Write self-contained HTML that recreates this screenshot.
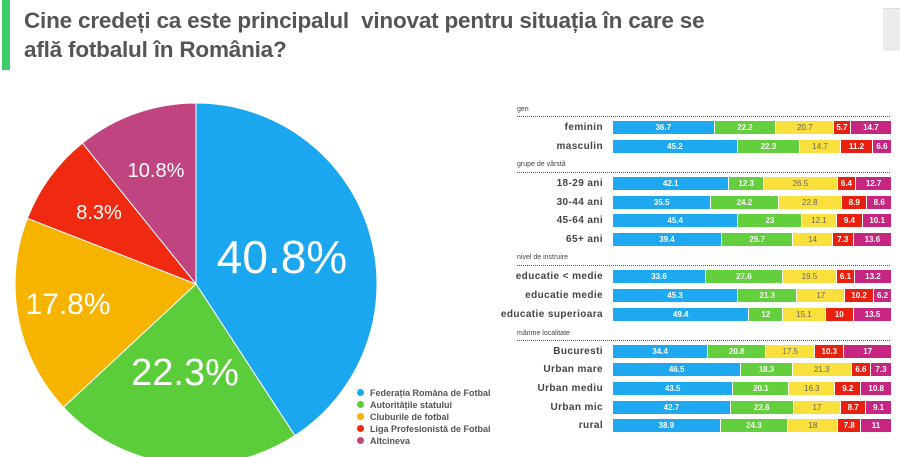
<!DOCTYPE html><html><head><meta charset="utf-8"><style>
body{margin:0;width:900px;height:457px;overflow:hidden;background:#fff;font-family:"Liberation Sans",sans-serif;position:relative}
.t{position:absolute;left:24px;top:6px;font-size:22.5px;font-weight:bold;color:#555;line-height:29px;letter-spacing:-0.2px}
.lab{position:absolute;right:297px;font-size:10px;color:#444;text-align:right;white-space:nowrap;letter-spacing:0.4px;line-height:13px;font-weight:bold}
.sec{position:absolute;left:517px;font-size:7px;color:#444}
.dl{position:absolute;left:517px;width:373px;border-top:1px dotted #555}
.bar{position:absolute;left:613px;width:279px;height:13px;display:flex}
.bar div{height:100%;box-sizing:border-box;border-right:1px solid #fff;font-size:8px;font-weight:bold;color:#fff;text-align:center;line-height:13px;overflow:hidden}
.b{background:#1ea8f0}.g{background:#63cf3c}.y{background:#f9e03c;color:#666!important;font-weight:normal!important}.r{background:#e8200f}.m{background:#c6267f}
.lg{position:absolute;left:357px;font-size:9px;font-weight:bold;color:#555}
.lg span{display:inline-block;width:7px;height:7px;border-radius:50%;margin-right:6px}
</style></head><body>
<div style="position:absolute;left:2px;top:0;width:8px;height:70px;background:#3dcc6b"></div>
<div class="t">Cine credeți ca este principalul&nbsp; vinovat pentru situația în care se<br>află fotbalul în România?</div>
<div style="position:absolute;left:883px;top:8px;width:17px;height:42px;background:#ececec;border-top:1px solid #ddd"></div>
<svg style="position:absolute;left:0;top:0" width="900" height="457">
<g transform="translate(196,284)">
<path d="M0,0 L0,-181 A181,181 0 0 1 98.9,151.6 Z" fill="#1aa7ef" stroke="#fff" stroke-width="1"/>
<path d="M0,0 L98.9,151.6 A181,181 0 0 1 -132.5,123.3 Z" fill="#5ccd3a" stroke="#fff" stroke-width="1"/>
<path d="M0,0 L-132.5,123.3 A181,181 0 0 1 -168.6,-65.7 Z" fill="#f6b400" stroke="#fff" stroke-width="1"/>
<path d="M0,0 L-168.6,-65.7 A181,181 0 0 1 -113.6,-140.9 Z" fill="#f02a10" stroke="#fff" stroke-width="1"/>
<path d="M0,0 L-113.6,-140.9 A181,181 0 0 1 0,-181 Z" fill="#c0447f" stroke="#fff" stroke-width="1"/>
</g>
<g fill="#fff" font-family="Liberation Sans,sans-serif" text-anchor="middle">
<text x="282" y="273" font-size="46">40.8%</text>
<text x="185" y="385" font-size="38">22.3%</text>
<text x="68" y="314" font-size="30">17.8%</text>
<text x="99" y="219" font-size="20">8.3%</text>
<text x="156" y="177" font-size="20">10.8%</text>
</g></svg>
<div class="lg" style="top:388px"><span style="background:#1aa7ef"></span>Federația Romȃna de Fotbal</div>
<div class="lg" style="top:400px"><span style="background:#5ccd3a"></span>Autoritățile statului</div>
<div class="lg" style="top:412px"><span style="background:#f6b400"></span>Cluburile de fotbal</div>
<div class="lg" style="top:424px"><span style="background:#f02a10"></span>Liga Profesionistă de Fotbal</div>
<div class="lg" style="top:436px"><span style="background:#c0447f"></span>Altcineva</div>

<div class="sec" style="top:106px">gen</div><div class="dl" style="top:116px"></div>
<div class="sec" style="top:161px">grupe de vârstă</div><div class="dl" style="top:172px"></div>
<div class="sec" style="top:254px">nivel de instruire</div><div class="dl" style="top:265px"></div>
<div class="sec" style="top:330px">mărime localitate</div><div class="dl" style="top:340px"></div>

<div class="lab" style="top:121px">feminin</div>
<div class="bar" style="top:121px"><div class="b" style="flex:36.7">36.7</div><div class="g" style="flex:22.2">22.2</div><div class="y" style="flex:20.7">20.7</div><div class="r" style="flex:5.7">5.7</div><div class="m" style="flex:14.7">14.7</div></div>
<div class="lab" style="top:140px">masculin</div>
<div class="bar" style="top:140px"><div class="b" style="flex:45.2">45.2</div><div class="g" style="flex:22.3">22.3</div><div class="y" style="flex:14.7">14.7</div><div class="r" style="flex:11.2">11.2</div><div class="m" style="flex:6.6">6.6</div></div>
<div class="lab" style="top:177px">18-29 ani</div>
<div class="bar" style="top:177px"><div class="b" style="flex:42.1">42.1</div><div class="g" style="flex:12.3">12.3</div><div class="y" style="flex:26.5">26.5</div><div class="r" style="flex:6.4">6.4</div><div class="m" style="flex:12.7">12.7</div></div>
<div class="lab" style="top:196px">30-44 ani</div>
<div class="bar" style="top:196px"><div class="b" style="flex:35.5">35.5</div><div class="g" style="flex:24.2">24.2</div><div class="y" style="flex:22.8">22.8</div><div class="r" style="flex:8.9">8.9</div><div class="m" style="flex:8.6">8.6</div></div>
<div class="lab" style="top:214px">45-64 ani</div>
<div class="bar" style="top:214px"><div class="b" style="flex:45.4">45.4</div><div class="g" style="flex:23">23</div><div class="y" style="flex:12.1">12.1</div><div class="r" style="flex:9.4">9.4</div><div class="m" style="flex:10.1">10.1</div></div>
<div class="lab" style="top:233px">65+ ani</div>
<div class="bar" style="top:233px"><div class="b" style="flex:39.4">39.4</div><div class="g" style="flex:25.7">25.7</div><div class="y" style="flex:14">14</div><div class="r" style="flex:7.3">7.3</div><div class="m" style="flex:13.6">13.6</div></div>
<div class="lab" style="top:270px">educatie &lt; medie</div>
<div class="bar" style="top:270px"><div class="b" style="flex:33.6">33.6</div><div class="g" style="flex:27.6">27.6</div><div class="y" style="flex:19.5">19.5</div><div class="r" style="flex:6.1">6.1</div><div class="m" style="flex:13.2">13.2</div></div>
<div class="lab" style="top:289px">educatie medie</div>
<div class="bar" style="top:289px"><div class="b" style="flex:45.3">45.3</div><div class="g" style="flex:21.3">21.3</div><div class="y" style="flex:17">17</div><div class="r" style="flex:10.2">10.2</div><div class="m" style="flex:6.2">6.2</div></div>
<div class="lab" style="top:308px">educatie superioara</div>
<div class="bar" style="top:308px"><div class="b" style="flex:49.4">49.4</div><div class="g" style="flex:12">12</div><div class="y" style="flex:15.1">15.1</div><div class="r" style="flex:10">10</div><div class="m" style="flex:13.5">13.5</div></div>
<div class="lab" style="top:345px">Bucuresti</div>
<div class="bar" style="top:345px"><div class="b" style="flex:34.4">34.4</div><div class="g" style="flex:20.8">20.8</div><div class="y" style="flex:17.5">17.5</div><div class="r" style="flex:10.3">10.3</div><div class="m" style="flex:17">17</div></div>
<div class="lab" style="top:363px">Urban mare</div>
<div class="bar" style="top:363px"><div class="b" style="flex:46.5">46.5</div><div class="g" style="flex:18.3">18.3</div><div class="y" style="flex:21.3">21.3</div><div class="r" style="flex:6.6">6.6</div><div class="m" style="flex:7.3">7.3</div></div>
<div class="lab" style="top:382px">Urban mediu</div>
<div class="bar" style="top:382px"><div class="b" style="flex:43.5">43.5</div><div class="g" style="flex:20.1">20.1</div><div class="y" style="flex:16.3">16.3</div><div class="r" style="flex:9.2">9.2</div><div class="m" style="flex:10.8">10.8</div></div>
<div class="lab" style="top:401px">Urban mic</div>
<div class="bar" style="top:401px"><div class="b" style="flex:42.7">42.7</div><div class="g" style="flex:22.6">22.6</div><div class="y" style="flex:17">17</div><div class="r" style="flex:8.7">8.7</div><div class="m" style="flex:9.1">9.1</div></div>
<div class="lab" style="top:419px">rural</div>
<div class="bar" style="top:419px"><div class="b" style="flex:38.9">38.9</div><div class="g" style="flex:24.3">24.3</div><div class="y" style="flex:18">18</div><div class="r" style="flex:7.8">7.8</div><div class="m" style="flex:11">11</div></div>
</body></html>
